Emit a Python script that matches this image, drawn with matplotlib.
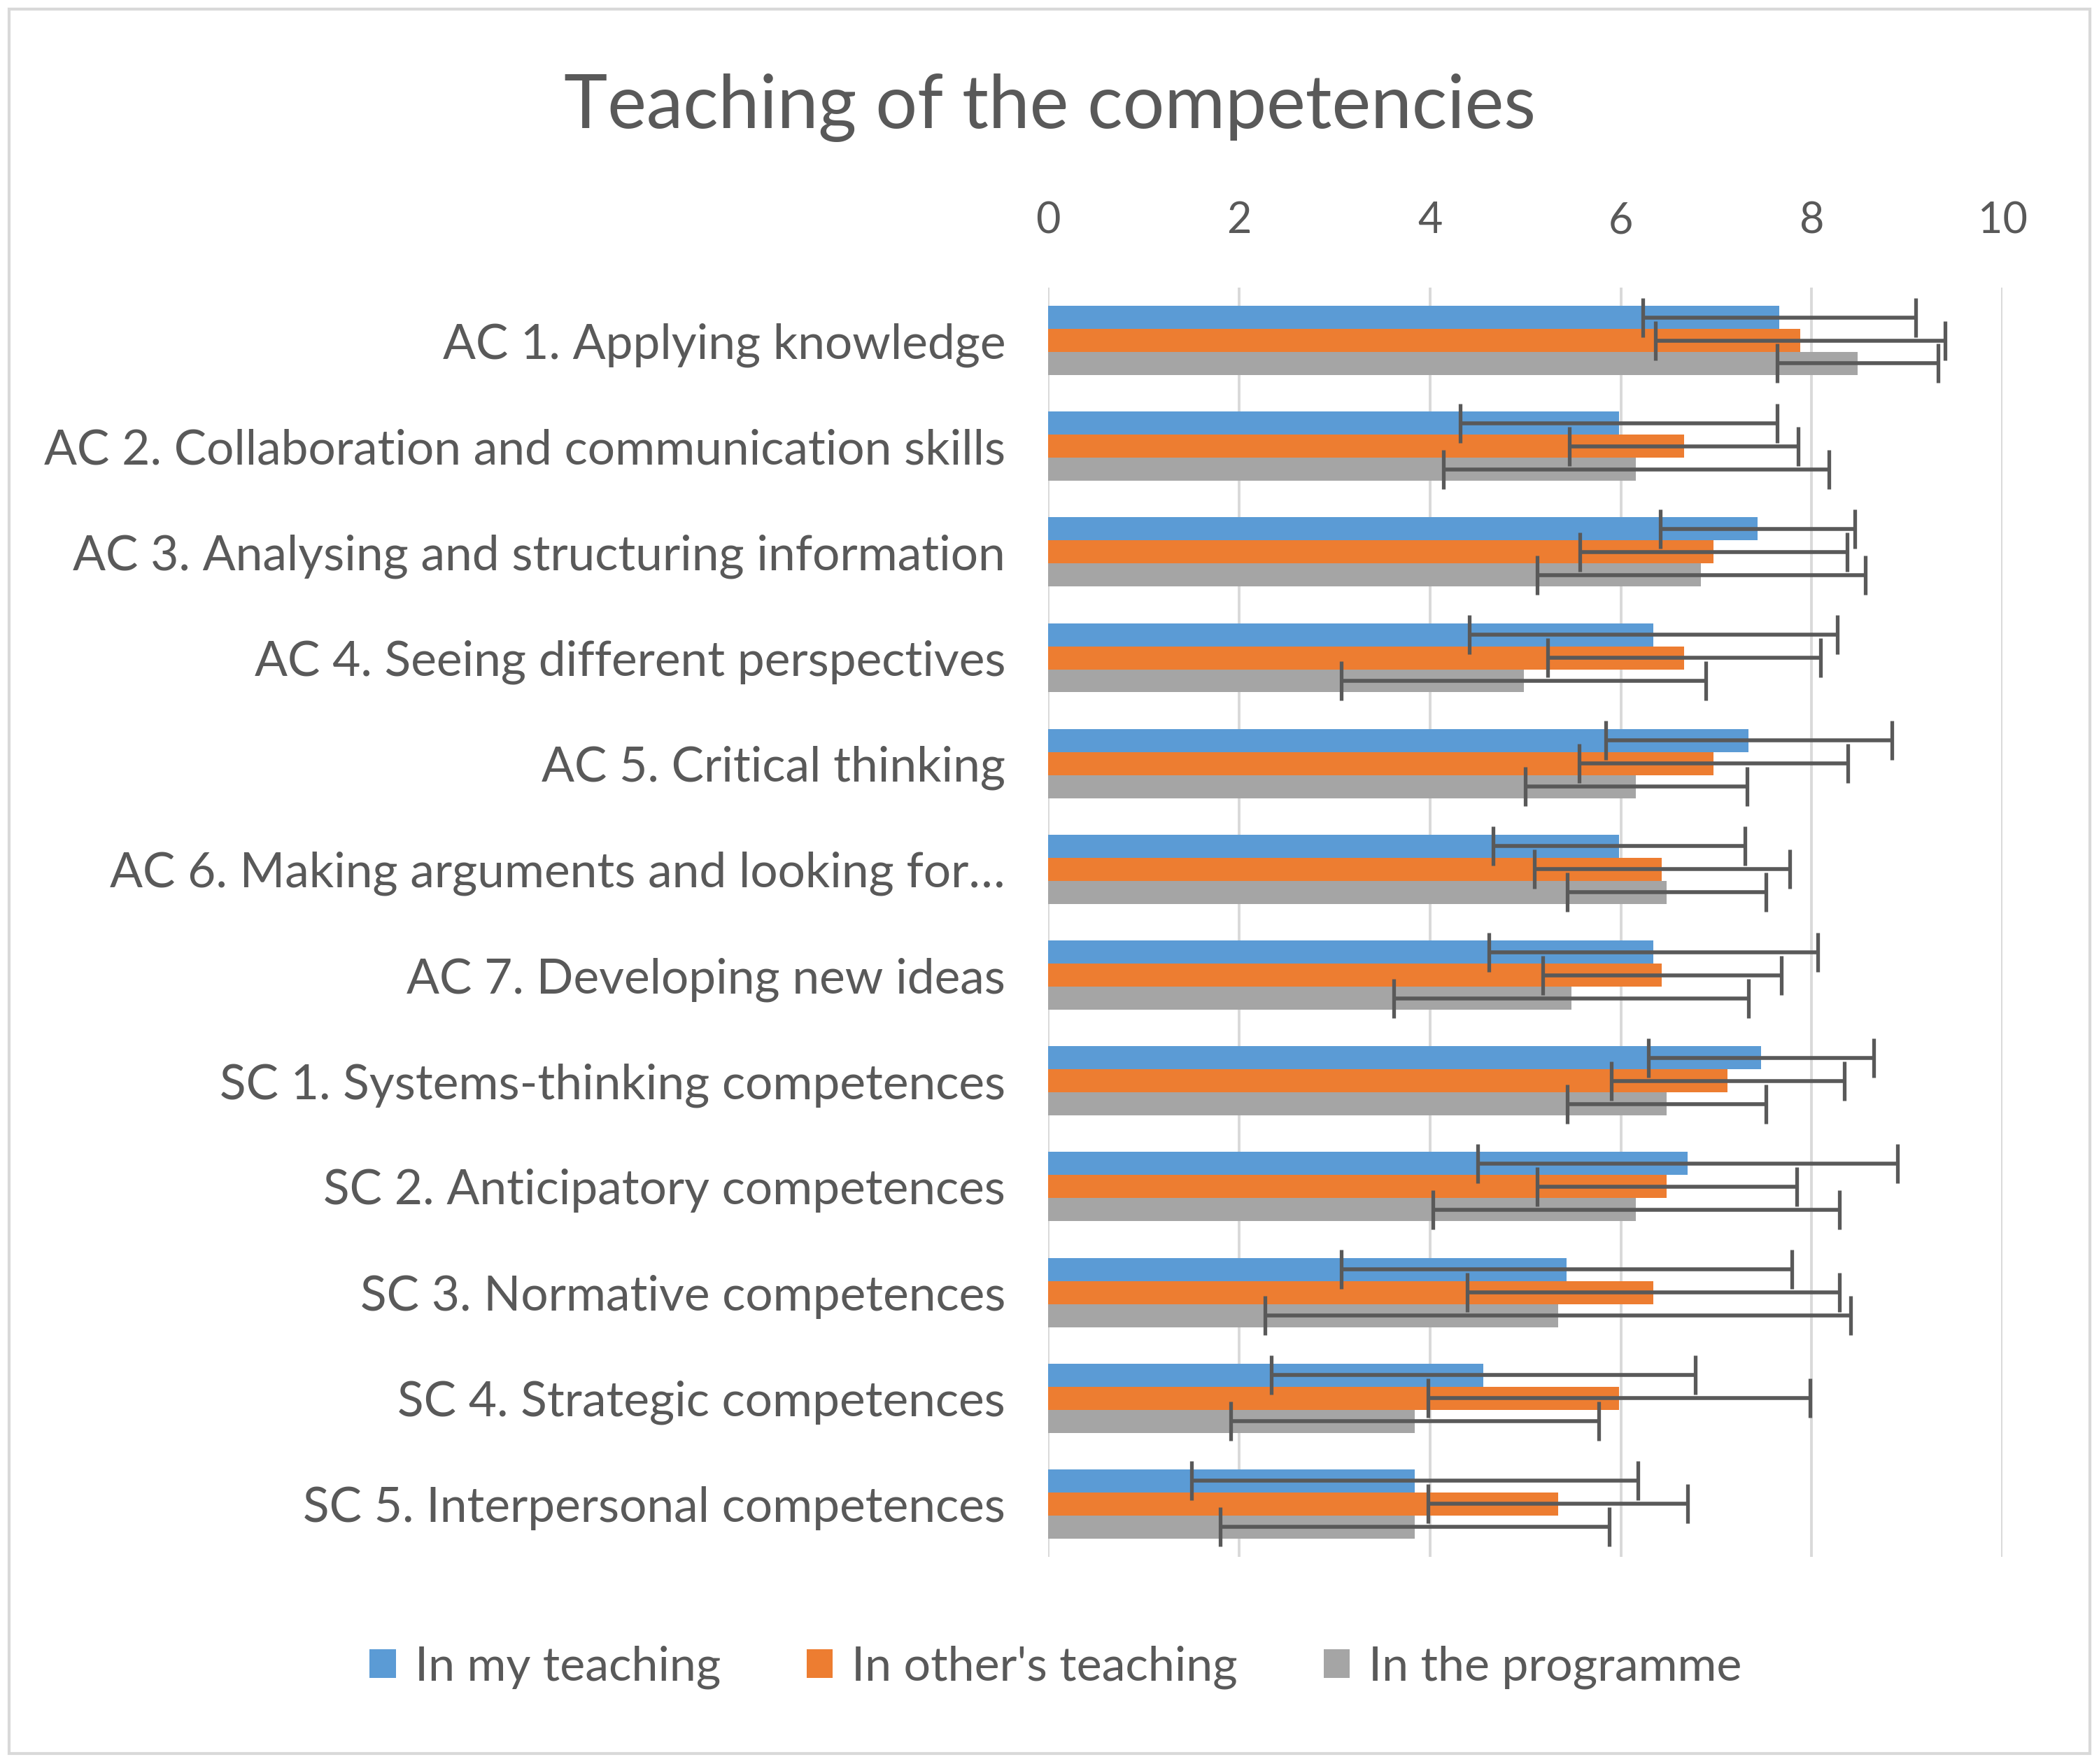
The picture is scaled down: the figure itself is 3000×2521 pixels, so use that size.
import matplotlib
matplotlib.use('Agg')
import matplotlib.pyplot as plt
import matplotlib.patches as patches
import numpy as np

#====Data====
categories = ['AC 1. Applying knowledge',
              'AC 2. Collaboration and communication skills',
              'AC 3. Analysing and structuring information',
              'AC 4. Seeing different perspectives',
              'AC 5. Critical thinking',
              'AC 6. Making arguments and looking for\u2026',
              'AC 7. Developing new ideas',
              'SC 1. Systems-thinking competences',
              'SC 2. Anticipatory competences',
              'SC 3. Normative competences',
              'SC 4. Strategic competences',
              'SC 5. Interpersonal competences']

my_teaching = [7.66, 5.98, 7.43, 6.34, 7.34, 5.98, 6.34, 7.47, 6.70, 5.43, 4.56, 3.84]
my_err = [1.43, 1.66, 1.02, 1.93, 1.50, 1.32, 1.72, 1.18, 2.20, 2.36, 2.22, 2.34]

others_teaching = [7.88, 6.66, 6.97, 6.66, 6.97, 6.43, 6.43, 7.12, 6.48, 6.34, 5.98, 5.34]
others_err = [1.52, 1.20, 1.40, 1.43, 1.41, 1.34, 1.25, 1.22, 1.36, 1.95, 2.00, 1.36]

programme = [8.48, 6.16, 6.84, 4.98, 6.16, 6.48, 5.48, 6.48, 6.16, 5.34, 3.84, 3.84]
programme_err = [0.84, 2.02, 1.72, 1.91, 1.16, 1.04, 1.86, 1.04, 2.13, 3.07, 1.93, 2.04]

series_names = ['In my teaching', "In other's teaching", 'In the programme']
colors = ['#5B9BD5', '#ED7D31', '#A5A5A5']

#====Figure====
plt.rcParams['font.family'] = ['Lato', 'DejaVu Sans']
fig = plt.figure(figsize=(15, 12.605), dpi=200)
ax = fig.add_axes([0.4994, 0.1174, 0.4547, 0.7196])

y = np.arange(len(categories))
h = 0.218
values = [my_teaching, others_teaching, programme]
errs = [my_err, others_err, programme_err]
for k in range(3):
    ax.barh(y + (k - 1) * h, values[k], height=h, color=colors[k],
            label=series_names[k], zorder=2,
            xerr=errs[k], error_kw=dict(ecolor='#595959', elinewidth=2.0,
                                        capsize=10, capthick=1.9, zorder=3))

ax.set_xlim(0, 10)
ax.set_ylim(-0.5, len(categories) - 0.5)
ax.invert_yaxis()
ax.set_xticks(range(0, 11, 2))
ax.xaxis.tick_top()
ax.tick_params(axis='x', length=0, pad=24, labelsize=22, labelcolor='#595959')
ax.tick_params(axis='y', length=0, pad=22, labelsize=25, labelcolor='#595959')
ax.set_yticks(y)
ax.set_yticklabels(categories)
ax.grid(axis='x', color='#D9D9D9', linewidth=1.4, zorder=0)
for s in ax.spines.values():
    s.set_visible(False)

fig.text(0.5, 0.939, 'Teaching of the competencies', ha='center', va='center',
         fontsize=38, color='#595959')

handles, labels = ax.get_legend_handles_labels()
leg = fig.legend(handles, labels, loc='center', bbox_to_anchor=(0.503, 0.055),
                 ncol=3, frameon=False, fontsize=24.5, handlelength=0.55,
                 handleheight=0.55, columnspacing=1.8, handletextpad=0.4)
for t in leg.get_texts():
    t.set_color('#595959')

# outer border
fig.patches.append(patches.Rectangle((0.0045, 0.006), 0.991, 0.989,
                                     transform=fig.transFigure, fill=False,
                                     edgecolor='#D9D9D9', linewidth=1.5))

fig.savefig('out.png', dpi=200)
